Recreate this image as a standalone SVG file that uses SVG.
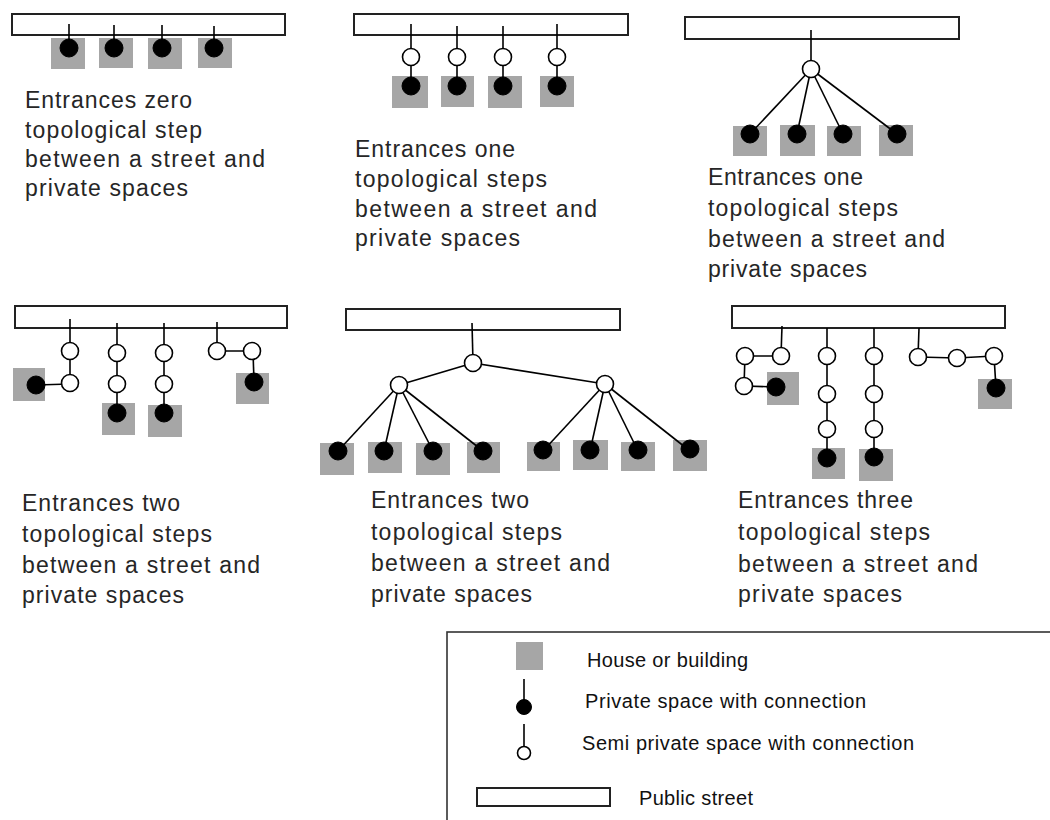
<svg xmlns="http://www.w3.org/2000/svg" width="1050" height="820" viewBox="0 0 1050 820">
<style>
.street{fill:#fff;stroke:#222;stroke-width:2}
.house{fill:#a6a6a6;stroke:none}
.conn line{stroke:#000;stroke-width:1.6}
.priv{fill:#000;stroke:#000;stroke-width:1}
.semi{fill:#fff;stroke:#000;stroke-width:1.6}
.cap{font-family:"Liberation Sans",Arial,sans-serif;font-size:23px;fill:#262626}
.leg{font-family:"Liberation Sans",Arial,sans-serif;font-size:20px;fill:#111}
</style>
<rect width="1050" height="820" fill="#fff"/>

<!-- Panel 1 -->
<g id="p1">
<g id="p1-street"><rect class="street" x="12" y="14" width="273" height="21"/></g>
<g id="p1-h1"><rect class="house" x="51" y="38" width="34" height="31"/></g>
<g id="p1-h2"><rect class="house" x="99" y="38" width="34" height="30"/></g>
<g id="p1-h3"><rect class="house" x="148" y="38" width="34" height="31"/></g>
<g id="p1-h4"><rect class="house" x="198" y="38" width="34" height="30"/></g>
<g id="p1-connectors" class="conn">
<line x1="69" y1="24" x2="69" y2="48"/><line x1="114" y1="25" x2="114" y2="48"/><line x1="162" y1="25" x2="162" y2="48"/><line x1="214" y1="26" x2="214" y2="48"/>
</g>
<g id="p1-s1"><circle class="priv" cx="69" cy="48" r="9"/></g>
<g id="p1-s2"><circle class="priv" cx="114" cy="48" r="9"/></g>
<g id="p1-s3"><circle class="priv" cx="162" cy="48" r="9"/></g>
<g id="p1-s4"><circle class="priv" cx="214" cy="48" r="9"/></g>
<text class="cap"><tspan x="25" y="108" textLength="167" lengthAdjust="spacing">Entrances zero</tspan><tspan x="25" y="138" textLength="177" lengthAdjust="spacing">topological step</tspan><tspan x="25" y="167" textLength="240" lengthAdjust="spacing">between a street and</tspan><tspan x="25" y="196" textLength="163" lengthAdjust="spacing">private spaces</tspan></text>
</g>

<!-- Panel 2 -->
<g id="p2">
<g id="p2-street"><rect class="street" x="354" y="14" width="274" height="21"/></g>
<g id="p2-h1"><rect class="house" x="392" y="76" width="36" height="32"/></g>
<g id="p2-h2"><rect class="house" x="441" y="76" width="33" height="31"/></g>
<g id="p2-h3"><rect class="house" x="488" y="76" width="34" height="32"/></g>
<g id="p2-h4"><rect class="house" x="540" y="76" width="34" height="31"/></g>
<g id="p2-connectors" class="conn">
<line x1="411" y1="24" x2="411" y2="86"/><line x1="457" y1="26" x2="457" y2="86"/><line x1="503" y1="26" x2="503" y2="86"/><line x1="557" y1="24" x2="557" y2="86"/>
</g>
<g id="p2-a1"><circle class="semi" cx="411" cy="57" r="8.5"/></g>
<g id="p2-a2"><circle class="semi" cx="457" cy="57" r="8.5"/></g>
<g id="p2-a3"><circle class="semi" cx="503" cy="57" r="8.5"/></g>
<g id="p2-a4"><circle class="semi" cx="557" cy="57" r="8.5"/></g>
<g id="p2-s1"><circle class="priv" cx="411" cy="86" r="9"/></g>
<g id="p2-s2"><circle class="priv" cx="457" cy="86" r="9"/></g>
<g id="p2-s3"><circle class="priv" cx="503" cy="86" r="9"/></g>
<g id="p2-s4"><circle class="priv" cx="557" cy="86" r="9"/></g>
<text class="cap"><tspan x="355" y="157" textLength="160" lengthAdjust="spacing">Entrances one</tspan><tspan x="355" y="187" textLength="192" lengthAdjust="spacing">topological steps</tspan><tspan x="355" y="217" textLength="242" lengthAdjust="spacing">between a street and</tspan><tspan x="355" y="246" textLength="165" lengthAdjust="spacing">private spaces</tspan></text>
</g>

<!-- Panel 3 -->
<g id="p3">
<g id="p3-street"><rect class="street" x="685" y="17" width="274" height="22"/></g>
<g id="p3-h1"><rect class="house" x="733" y="126" width="34" height="30"/></g>
<g id="p3-h2"><rect class="house" x="780" y="125" width="35" height="31"/></g>
<g id="p3-h3"><rect class="house" x="827" y="126" width="34" height="30"/></g>
<g id="p3-h4"><rect class="house" x="879" y="125" width="34" height="31"/></g>
<g id="p3-connectors" class="conn">
<line x1="811" y1="30" x2="811" y2="69"/>
<line x1="811" y1="69" x2="750" y2="134"/><line x1="811" y1="69" x2="797" y2="134"/><line x1="811" y1="69" x2="843" y2="134"/><line x1="811" y1="69" x2="897" y2="134"/>
</g>
<g id="p3-a1"><circle class="semi" cx="811" cy="69" r="8.5"/></g>
<g id="p3-s1"><circle class="priv" cx="750" cy="134" r="9"/></g>
<g id="p3-s2"><circle class="priv" cx="797" cy="134" r="9"/></g>
<g id="p3-s3"><circle class="priv" cx="843" cy="134" r="9"/></g>
<g id="p3-s4"><circle class="priv" cx="897" cy="134" r="9"/></g>
<text class="cap"><tspan x="708" y="185" textLength="155" lengthAdjust="spacing">Entrances one</tspan><tspan x="708" y="216" textLength="190" lengthAdjust="spacing">topological steps</tspan><tspan x="708" y="247" textLength="237" lengthAdjust="spacing">between a street and</tspan><tspan x="708" y="277" textLength="159" lengthAdjust="spacing">private spaces</tspan></text>
</g>

<!-- Panel 4 -->
<g id="p4">
<g id="p4-street"><rect class="street" x="15" y="306" width="272" height="22"/></g>
<g id="p4-h1"><rect class="house" x="13" y="368" width="32" height="33"/></g>
<g id="p4-h2"><rect class="house" x="102" y="403" width="33" height="32"/></g>
<g id="p4-h3"><rect class="house" x="148" y="405" width="34" height="32"/></g>
<g id="p4-h4"><rect class="house" x="236" y="373" width="33" height="31"/></g>
<g id="p4-connectors" class="conn">
<line x1="70" y1="319" x2="70" y2="383"/><line x1="70" y1="384" x2="36" y2="385"/>
<line x1="117" y1="323" x2="117" y2="413"/>
<line x1="164" y1="323" x2="164" y2="413"/>
<line x1="217" y1="322" x2="217" y2="351"/><line x1="217" y1="351" x2="252" y2="351"/><line x1="253" y1="351" x2="254" y2="382"/>
</g>
<g id="p4-a1"><circle class="semi" cx="70" cy="351" r="8.5"/></g>
<g id="p4-a2"><circle class="semi" cx="70" cy="383" r="8.5"/></g>
<g id="p4-a3"><circle class="semi" cx="117" cy="353" r="8.5"/></g>
<g id="p4-a4"><circle class="semi" cx="117" cy="384" r="8.5"/></g>
<g id="p4-a5"><circle class="semi" cx="164" cy="353" r="8.5"/></g>
<g id="p4-a6"><circle class="semi" cx="164" cy="384" r="8.5"/></g>
<g id="p4-a7"><circle class="semi" cx="217" cy="351" r="8.5"/></g>
<g id="p4-a8"><circle class="semi" cx="252" cy="351" r="8.5"/></g>
<g id="p4-s1"><circle class="priv" cx="36" cy="385" r="9"/></g>
<g id="p4-s2"><circle class="priv" cx="117" cy="413" r="9"/></g>
<g id="p4-s3"><circle class="priv" cx="164" cy="413" r="9"/></g>
<g id="p4-s4"><circle class="priv" cx="254" cy="382" r="9"/></g>
<text class="cap"><tspan x="22" y="511" textLength="158" lengthAdjust="spacing">Entrances two</tspan><tspan x="22" y="542" textLength="190" lengthAdjust="spacing">topological steps</tspan><tspan x="22" y="573" textLength="238" lengthAdjust="spacing">between a street and</tspan><tspan x="22" y="603" textLength="162" lengthAdjust="spacing">private spaces</tspan></text>
</g>

<!-- Panel 5 -->
<g id="p5">
<g id="p5-street"><rect class="street" x="346" y="309" width="274" height="21"/></g>
<g id="p5-h1"><rect class="house" x="320" y="443" width="34" height="32"/></g>
<g id="p5-h2"><rect class="house" x="368" y="442" width="34" height="31"/></g>
<g id="p5-h3"><rect class="house" x="416" y="443" width="34" height="32"/></g>
<g id="p5-h4"><rect class="house" x="467" y="442" width="33" height="31"/></g>
<g id="p5-h5"><rect class="house" x="527" y="442" width="33" height="29"/></g>
<g id="p5-h6"><rect class="house" x="573" y="440" width="35" height="30"/></g>
<g id="p5-h7"><rect class="house" x="621" y="442" width="34" height="29"/></g>
<g id="p5-h8"><rect class="house" x="673" y="440" width="34" height="31"/></g>
<g id="p5-connectors" class="conn">
<line x1="472" y1="323" x2="473" y2="363"/>
<line x1="473" y1="363" x2="399" y2="385"/><line x1="473" y1="363" x2="605" y2="384"/>
<line x1="399" y1="385" x2="338" y2="451"/><line x1="399" y1="385" x2="384" y2="451"/><line x1="399" y1="385" x2="433" y2="451"/><line x1="399" y1="385" x2="483" y2="451"/>
<line x1="605" y1="384" x2="543" y2="451"/><line x1="605" y1="384" x2="590" y2="451"/><line x1="605" y1="384" x2="638" y2="451"/><line x1="605" y1="384" x2="690" y2="451"/>
</g>
<g id="p5-a1"><circle class="semi" cx="473" cy="363" r="8.5"/></g>
<g id="p5-a2"><circle class="semi" cx="399" cy="385" r="8.5"/></g>
<g id="p5-a3"><circle class="semi" cx="605" cy="384" r="8.5"/></g>
<g id="p5-s1"><circle class="priv" cx="338" cy="451" r="9"/></g>
<g id="p5-s2"><circle class="priv" cx="384" cy="451" r="9"/></g>
<g id="p5-s3"><circle class="priv" cx="433" cy="451" r="9"/></g>
<g id="p5-s4"><circle class="priv" cx="483" cy="451" r="9"/></g>
<g id="p5-s5"><circle class="priv" cx="543" cy="450" r="9"/></g>
<g id="p5-s6"><circle class="priv" cx="590" cy="450" r="9"/></g>
<g id="p5-s7"><circle class="priv" cx="638" cy="450" r="9"/></g>
<g id="p5-s8"><circle class="priv" cx="690" cy="449" r="9"/></g>
<text class="cap"><tspan x="371" y="508" textLength="158" lengthAdjust="spacing">Entrances two</tspan><tspan x="371" y="540" textLength="191" lengthAdjust="spacing">topological steps</tspan><tspan x="371" y="571" textLength="239" lengthAdjust="spacing">between a street and</tspan><tspan x="371" y="602" textLength="161" lengthAdjust="spacing">private spaces</tspan></text>
</g>

<!-- Panel 6 -->
<g id="p6">
<g id="p6-street"><rect class="street" x="732" y="306" width="273" height="22"/></g>
<g id="p6-h1"><rect class="house" x="767" y="372" width="32" height="33"/></g>
<g id="p6-h2"><rect class="house" x="812" y="448" width="33" height="31"/></g>
<g id="p6-h3"><rect class="house" x="859" y="449" width="34" height="32"/></g>
<g id="p6-h4"><rect class="house" x="978" y="379" width="34" height="30"/></g>
<g id="p6-connectors" class="conn">
<line x1="782" y1="326" x2="781" y2="356"/><line x1="781" y1="356" x2="745" y2="356"/><line x1="745" y1="356" x2="744" y2="386"/><line x1="744" y1="386" x2="776" y2="387"/>
<line x1="827" y1="328" x2="827" y2="458"/>
<line x1="874" y1="328" x2="874" y2="457"/>
<line x1="919" y1="328" x2="918" y2="357"/><line x1="918" y1="357" x2="957" y2="358"/><line x1="957" y1="358" x2="994" y2="356"/><line x1="994" y1="356" x2="996" y2="388"/>
</g>
<g id="p6-a1"><circle class="semi" cx="781" cy="356" r="8.5"/></g>
<g id="p6-a2"><circle class="semi" cx="745" cy="356" r="8.5"/></g>
<g id="p6-a3"><circle class="semi" cx="744" cy="386" r="8.5"/></g>
<g id="p6-a4"><circle class="semi" cx="827" cy="356" r="8.5"/></g>
<g id="p6-a5"><circle class="semi" cx="827" cy="394" r="8.5"/></g>
<g id="p6-a6"><circle class="semi" cx="827" cy="429" r="8.5"/></g>
<g id="p6-a7"><circle class="semi" cx="874" cy="356" r="8.5"/></g>
<g id="p6-a8"><circle class="semi" cx="874" cy="394" r="8.5"/></g>
<g id="p6-a9"><circle class="semi" cx="874" cy="429" r="8.5"/></g>
<g id="p6-a10"><circle class="semi" cx="918" cy="357" r="8.5"/></g>
<g id="p6-a11"><circle class="semi" cx="957" cy="358" r="8.5"/></g>
<g id="p6-a12"><circle class="semi" cx="994" cy="356" r="8.5"/></g>
<g id="p6-s1"><circle class="priv" cx="776" cy="387" r="9"/></g>
<g id="p6-s2"><circle class="priv" cx="827" cy="458" r="9"/></g>
<g id="p6-s3"><circle class="priv" cx="874" cy="457" r="9"/></g>
<g id="p6-s4"><circle class="priv" cx="996" cy="388" r="9"/></g>
<text class="cap"><tspan x="738" y="508" textLength="175" lengthAdjust="spacing">Entrances three</tspan><tspan x="738" y="540" textLength="192" lengthAdjust="spacing">topological steps</tspan><tspan x="738" y="572" textLength="240" lengthAdjust="spacing">between a street and</tspan><tspan x="738" y="602" textLength="164" lengthAdjust="spacing">private spaces</tspan></text>
</g>

<!-- Legend -->
<g id="legend">
<rect x="447" y="632" width="640" height="220" fill="#fff" stroke="#333" stroke-width="1.6"/>
<g id="leg-house"><rect class="house" x="516" y="642" width="27" height="28"/></g>
<g id="leg-connectors" class="conn"><line x1="524" y1="679" x2="524" y2="707"/><line x1="524" y1="724" x2="524" y2="753"/></g>
<g id="leg-private"><circle class="priv" cx="524" cy="707" r="7.5"/></g>
<g id="leg-semi"><circle class="semi" cx="524" cy="753" r="6.5"/></g>
<g id="leg-street"><rect class="street" x="477" y="788" width="133" height="18" stroke-width="1.6"/></g>
<text class="leg" x="587" y="667" textLength="161" lengthAdjust="spacing">House or building</text>
<text class="leg" x="585" y="708" textLength="281" lengthAdjust="spacing">Private space with connection</text>
<text class="leg" x="582" y="750" textLength="332" lengthAdjust="spacing">Semi private space with connection</text>
<text class="leg" x="639" y="805" textLength="114" lengthAdjust="spacing">Public street</text>
</g>
</svg>
